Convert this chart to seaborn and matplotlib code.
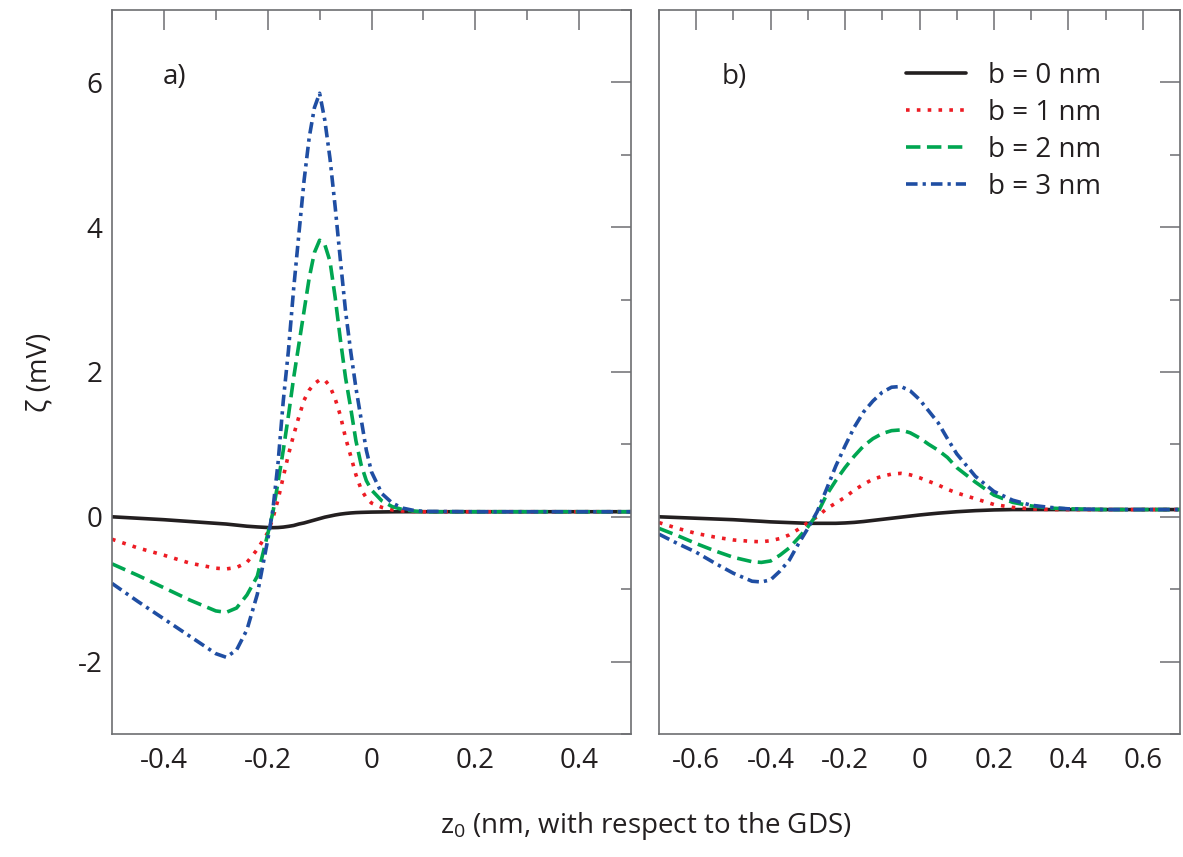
import numpy as np
import pandas as pd
import matplotlib
matplotlib.use("Agg")
import matplotlib.pyplot as plt
from matplotlib.ticker import MultipleLocator, FuncFormatter
import seaborn as sns

# ---- data ----
labels = ['b = 0 nm', 'b = 1 nm', 'b = 2 nm', 'b = 3 nm']

# panel a)
z_a = [-0.5, -0.45, -0.4, -0.35, -0.3, -0.28, -0.26, -0.24, -0.22, -0.2,
       -0.19, -0.18, -0.17, -0.16, -0.15, -0.14, -0.13, -0.12, -0.11, -0.10,
       -0.09, -0.08, -0.07, -0.06, -0.05, -0.04, -0.03, -0.02, -0.01, 0.0,
       0.02, 0.04, 0.06, 0.08, 0.1, 0.2, 0.3, 0.4, 0.5]
zeta_a_b0 = [0.0, -0.02, -0.04, -0.065, -0.09, -0.10, -0.115, -0.13, -0.14, -0.148,
             -0.15, -0.148, -0.142, -0.132, -0.12, -0.10, -0.085, -0.065, -0.045, -0.025,
             -0.005, 0.01, 0.025, 0.037, 0.046, 0.053, 0.058, 0.061, 0.063, 0.065,
             0.067, 0.069, 0.07, 0.07, 0.07, 0.07, 0.07, 0.07, 0.07]
zeta_a_b1 = [-0.31, -0.43, -0.53, -0.64, -0.71, -0.72, -0.70, -0.63, -0.45, -0.22,
             -0.02, 0.24, 0.55, 0.86, 1.13, 1.38, 1.61, 1.75, 1.84, 1.89,
             1.89, 1.80, 1.63, 1.40, 1.09, 0.84, 0.58, 0.38, 0.26, 0.19,
             0.13, 0.095, 0.08, 0.075, 0.07, 0.07, 0.07, 0.07, 0.07]
zeta_a_b2 = [-0.65, -0.81, -0.98, -1.15, -1.30, -1.32, -1.26, -1.08, -0.82, -0.24,
             0.06, 0.48, 0.92, 1.40, 1.92, 2.38, 2.84, 3.30, 3.65, 3.82,
             3.76, 3.53, 3.03, 2.45, 1.92, 1.50, 1.05, 0.72, 0.50, 0.37,
             0.22, 0.14, 0.10, 0.08, 0.07, 0.07, 0.07, 0.07, 0.07]
zeta_a_b3 = [-0.92, -1.17, -1.41, -1.65, -1.89, -1.94, -1.84, -1.56, -1.07, -0.32,
             0.10, 0.75, 1.60, 2.30, 3.15, 3.90, 4.64, 5.24, 5.65, 5.85,
             5.48, 4.95, 4.28, 3.55, 2.84, 2.28, 1.78, 1.35, 0.92, 0.62,
             0.32, 0.19, 0.12, 0.09, 0.075, 0.07, 0.07, 0.07, 0.07]

# panel b)
z_b = [-0.7, -0.65, -0.6, -0.55, -0.5, -0.45, -0.425, -0.4, -0.375, -0.35,
       -0.325, -0.3, -0.275, -0.25, -0.225, -0.2, -0.175, -0.15, -0.125, -0.1,
       -0.075, -0.05, -0.025, 0.0, 0.025, 0.05, 0.075, 0.1, 0.15, 0.2,
       0.25, 0.3, 0.35, 0.4, 0.5, 0.6, 0.7]
zeta_b_b0 = [0.0, -0.01, -0.02, -0.03, -0.04, -0.055, -0.062, -0.07, -0.075, -0.08,
             -0.085, -0.09, -0.09, -0.09, -0.09, -0.085, -0.077, -0.065, -0.05, -0.035,
             -0.02, -0.005, 0.01, 0.025, 0.038, 0.05, 0.06, 0.07, 0.085, 0.095,
             0.10, 0.10, 0.10, 0.10, 0.10, 0.10, 0.10]
zeta_b_b1 = [-0.08, -0.16, -0.23, -0.28, -0.32, -0.34, -0.345, -0.33, -0.30, -0.25,
             -0.17, -0.08, 0.0, 0.11, 0.19, 0.27, 0.37, 0.45, 0.52, 0.56,
             0.59, 0.60, 0.58, 0.54, 0.49, 0.44, 0.38, 0.33, 0.25, 0.17,
             0.13, 0.11, 0.10, 0.10, 0.10, 0.10, 0.10]
zeta_b_b2 = [-0.16, -0.26, -0.37, -0.47, -0.56, -0.62, -0.63, -0.61, -0.53, -0.43,
             -0.29, -0.14, 0.04, 0.30, 0.50, 0.68, 0.84, 0.98, 1.08, 1.15,
             1.19, 1.20, 1.16, 1.09, 1.00, 0.92, 0.82, 0.68, 0.48, 0.30,
             0.20, 0.15, 0.12, 0.11, 0.10, 0.10, 0.10]
zeta_b_b3 = [-0.24, -0.37, -0.49, -0.64, -0.78, -0.89, -0.90, -0.87, -0.75, -0.60,
             -0.37, -0.16, 0.07, 0.38, 0.70, 0.98, 1.24, 1.45, 1.60, 1.72,
             1.79, 1.80, 1.74, 1.62, 1.46, 1.30, 1.08, 0.87, 0.56, 0.35,
             0.23, 0.16, 0.13, 0.11, 0.10, 0.10, 0.10]

colors = ['#231f20', '#ed1c24', '#00a651', '#1f4ea3']
dashes = {labels[0]: '', labels[1]: (1, 2.0), labels[2]: (4.0, 1.8),
          labels[3]: (3.2, 1.4, 0.9, 1.4)}


def long_form(z, series):
    frames = []
    for lab, vals in zip(labels, series):
        frames.append(pd.DataFrame({'z': z, 'zeta': vals, 'b': lab}))
    return pd.concat(frames, ignore_index=True)


df_a = long_form(z_a, [zeta_a_b0, zeta_a_b1, zeta_a_b2, zeta_a_b3])
df_b = long_form(z_b, [zeta_b_b0, zeta_b_b1, zeta_b_b2, zeta_b_b3])

sns.set_style('white')
plt.rcParams['font.family'] = ['Open Sans', 'DejaVu Sans']
plt.rcParams['mathtext.default'] = 'regular'
text_color = '#231f20'
edge_color = '#6d6e71'

fig = plt.figure(figsize=(11.83, 8.57), dpi=100)
ax_a = fig.add_axes([112 / 1183, 1 - 734 / 857, 519 / 1183, 724 / 857])
ax_b = fig.add_axes([659 / 1183, 1 - 734 / 857, 521 / 1183, 724 / 857])

for ax, df in [(ax_a, df_a), (ax_b, df_b)]:
    sns.lineplot(data=df, x='z', y='zeta', hue='b', style='b',
                 palette=colors, dashes=dashes, linewidth=2.6,
                 sort=False, estimator=None, legend=False, ax=ax)


def fmt(v, pos):
    if abs(v) < 1e-9:
        return '0'
    if abs(v - round(v)) < 1e-9:
        return '%d' % round(v)
    return '%.1f' % v


for ax in (ax_a, ax_b):
    ax.set_ylim(-3, 7)
    ax.set_xlabel('')
    ax.set_ylabel('')
    ax.xaxis.set_major_locator(MultipleLocator(0.2))
    ax.xaxis.set_minor_locator(MultipleLocator(0.1))
    ax.yaxis.set_major_locator(MultipleLocator(2))
    ax.yaxis.set_minor_locator(MultipleLocator(1))
    ax.xaxis.set_major_formatter(FuncFormatter(fmt))
    ax.yaxis.set_major_formatter(FuncFormatter(fmt))
    ax.tick_params(which='both', direction='in', top=True, right=True,
                   color=edge_color, width=1.1, labelsize=20,
                   labelcolor=text_color, pad=9)
    ax.tick_params(which='major', length=14.5)
    ax.tick_params(which='minor', length=7.2)
    for sp in ax.spines.values():
        sp.set_color(edge_color)
        sp.set_linewidth(1.2)

ax_a.set_xlim(-0.5, 0.5)
ax_b.set_xlim(-0.7, 0.7)
ax_b.tick_params(labelleft=False)
ax_a.tick_params(axis='y', pad=7)

ax_a.text(0.098, 0.908, 'a)', transform=ax_a.transAxes, fontsize=20,
          color=text_color, va='center', ha='left')
ax_b.text(0.121, 0.908, 'b)', transform=ax_b.transAxes, fontsize=20,
          color=text_color, va='center', ha='left')

ax_b.legend(handles=ax_b.get_lines()[:4], labels=labels, loc='upper left',
            bbox_to_anchor=(0.474, 0.928), frameon=False, fontsize=20,
            handlelength=2.16, handletextpad=0.8, labelspacing=0.32,
            borderpad=0, borderaxespad=0, labelcolor=text_color)

fig.text(40 / 1183, 1 - 372 / 857, 'ζ (mV)', rotation=90, fontsize=20,
         color=text_color, ha='center', va='center')
fig.text(646 / 1183, 1 - 826 / 857, '$z_0$ (nm, with respect to the GDS)',
         fontsize=20, color=text_color, ha='center', va='center')

fig.savefig('out.png', dpi=100)
